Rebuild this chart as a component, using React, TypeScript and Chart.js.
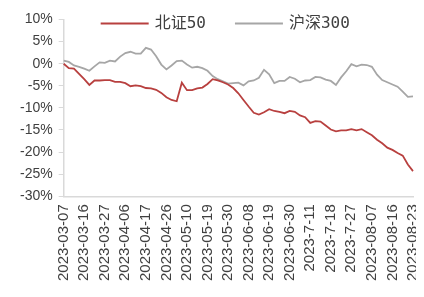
import React, { useEffect, useRef } from "react";
import { Chart, registerables } from "chart.js";

Chart.register(...registerables);

const tickDates = [
  "2023-03-07", "2023-03-16", "2023-03-27", "2023-04-06", "2023-04-17", "2023-04-26",
  "2023-05-10", "2023-05-19", "2023-05-30", "2023-06-08", "2023-06-19", "2023-06-30",
  "2023-7-11", "2023-7-18", "2023-7-27", "2023-08-07", "2023-08-16", "2023-08-23",
];
const POINTS_PER_TICK = 4;

const seriesNames = ["北证50", "沪深300"];

const bz50 = [
  0, -1, -1.1, -2.3, -3.5, -4.8, -3.8, -3.8, -3.7, -3.7,
  -4.1, -4.1, -4.4, -5.1, -4.9, -5.1, -5.5, -5.6, -5.9, -6.6,
  -7.6, -8.2, -8.5, -4.3, -6.0, -6.0, -5.6, -5.4, -4.6, -3.5,
  -3.8, -4.2, -4.7, -5.5, -6.7, -8.2, -9.7, -11.1, -11.5, -11.0,
  -10.3, -10.7, -10.9, -11.2, -10.7, -10.9, -11.7, -12.1, -13.4, -13.0,
  -13.1, -14.0, -14.9, -15.3, -15.1, -15.1, -14.8, -15.1, -14.8, -15.5,
  -16.2, -17.2, -18.0, -19.0, -19.5, -20.2, -20.8, -22.8, -24.3,
];

const hs300 = [
  0.7, 0.4, -0.4, -0.7, -1.1, -1.6, -0.6, 0.3, 0.2, 0.7,
  0.5, 1.6, 2.4, 2.7, 2.3, 2.3, 3.6, 3.2, 1.7, -0.2,
  -1.3, -0.4, 0.6, 0.7, -0.2, -0.9, -0.7, -1.0, -1.6, -2.8,
  -3.5, -4.0, -4.5, -4.4, -4.3, -4.9, -4.0, -3.8, -3.2, -1.4,
  -2.4, -4.4, -3.9, -3.9, -3.0, -3.4, -4.2, -3.8, -3.7, -3.0,
  -3.1, -3.6, -3.9, -4.8, -3.1, -1.7, -0.1, -0.6, -0.2, -0.3,
  -0.7, -2.5, -3.7, -4.2, -4.7, -5.2, -6.3, -7.5, -7.4,
];

const yTicks = { min: -30, max: 10, step: 5 };

const labels = bz50.map((_, i) =>
  i % POINTS_PER_TICK === 0 ? tickDates[i / POINTS_PER_TICK] ?? "" : ""
);

const TEXT = "#404040";
const AXIS = "#D9D9D9";

const legendPlugin = {
  id: "customLegend",
  afterDraw(chart: any) {
    const { ctx, chartArea } = chart;
    ctx.save();
    ctx.font = "16px 'DejaVu Sans Mono', 'Noto Sans CJK SC'";
    ctx.textBaseline = "middle";
    ctx.textAlign = "left";
    let x = chartArea.left + 37;
    const y = chartArea.top + 4;
    chart.data.datasets.forEach((ds: any) => {
      ctx.strokeStyle = ds.borderColor;
      ctx.lineWidth = 2;
      ctx.beginPath();
      ctx.moveTo(x, y);
      ctx.lineTo(x + 48, y);
      ctx.stroke();
      x += 48 + 6;
      ctx.fillStyle = TEXT;
      ctx.fillText(ds.label, x, y);
      x += ctx.measureText(ds.label).width + 29;
    });
    ctx.restore();
  },
};

export default function App() {
  const ref = useRef<HTMLCanvasElement | null>(null);
  useEffect(() => {
    if (!ref.current) return;
    const chart = new Chart(ref.current, {
      type: "line",
      data: {
        labels,
        datasets: [
          {
            label: seriesNames[0],
            data: bz50,
            borderColor: "#B8403F",
            borderWidth: 1.8,
            pointRadius: 0,
            tension: 0,
          },
          {
            label: seriesNames[1],
            data: hs300,
            borderColor: "#A6A6A6",
            borderWidth: 1.8,
            pointRadius: 0,
            tension: 0,
          },
        ],
      },
      options: {
        animation: false,
        responsive: false,
        layout: { padding: { left: 6, right: 11, top: 0, bottom: 0 } },
        plugins: {
          legend: { display: false },
          tooltip: { enabled: false },
        },
        scales: {
          x: {
            type: "category",
            offset: false,
            grid: { drawOnChartArea: false, drawTicks: false },
            border: { color: AXIS, width: 1.5 },
            afterFit: (axis: any) => {
              axis.paddingRight = 0;
              axis.paddingLeft = 0;
            },
            ticks: {
              autoSkip: false,
              maxRotation: 90,
              minRotation: 90,
              padding: 8,
              color: TEXT,
              font: { family: "'Liberation Sans', Arial", size: 15 },
            },
          },
          y: {
            min: yTicks.min,
            max: yTicks.max,
            grid: { drawOnChartArea: false, drawTicks: true, tickLength: 5, color: AXIS },
            border: { color: AXIS, width: 1.5 },
            afterFit: (axis: any) => {
              axis.paddingTop = 11.5;
            },
            ticks: {
              stepSize: yTicks.step,
              padding: 6,
              color: TEXT,
              font: { family: "'Liberation Sans', Arial", size: 14 },
              callback: (v: any) => `${v}%`,
            },
          },
        },
      },
      plugins: [legendPlugin],
    });
    return () => chart.destroy();
  }, []);
  return (
    <div style={{ width: 416, height: 281 }}>
      <canvas ref={ref} width={416} height={281} />
    </div>
  );
}
